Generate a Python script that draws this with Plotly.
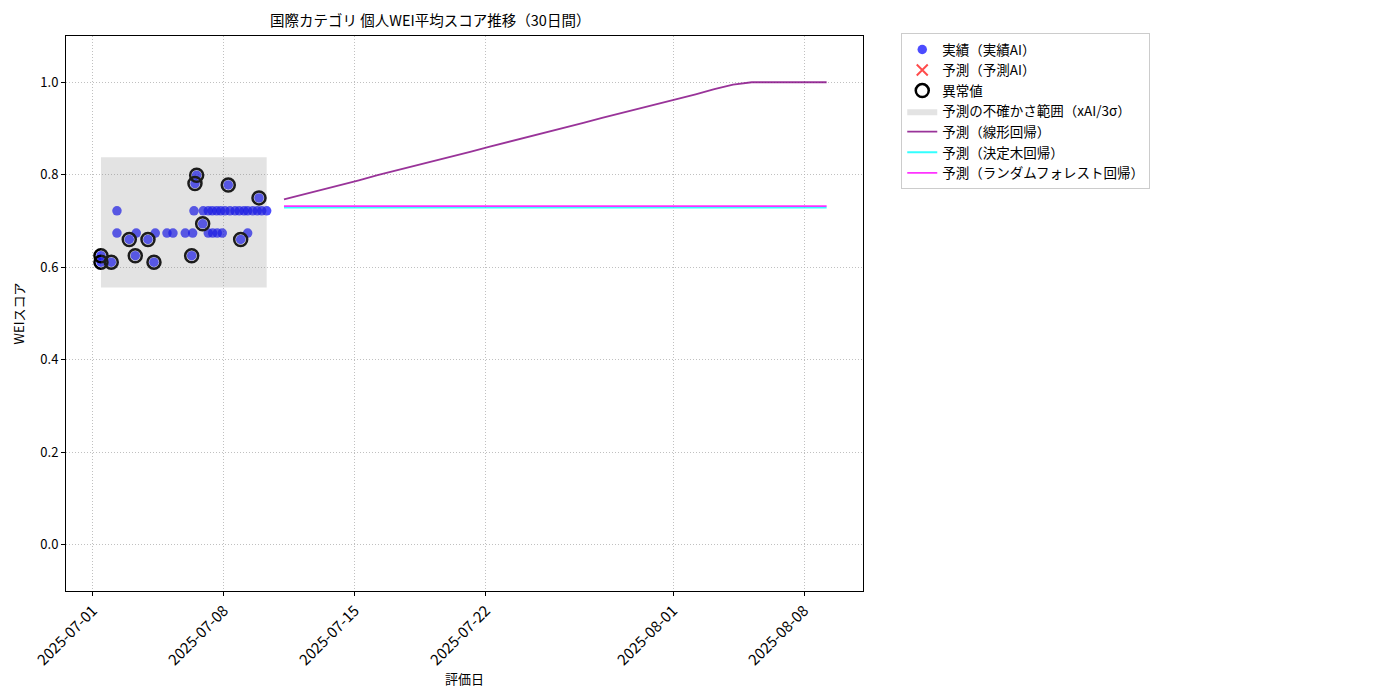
import plotly.graph_objects as go
import pandas as pd

# ---- data ----
obs_dates = [
    "2025-07-01 10:16", "2025-07-01 10:16", "2025-07-01 23:28", "2025-07-02 06:47", "2025-07-02 06:47",
    "2025-07-02 22:34", "2025-07-03 06:16", "2025-07-03 07:32", "2025-07-03 22:33", "2025-07-04 06:15",
    "2025-07-04 07:55", "2025-07-04 22:55", "2025-07-05 06:37", "2025-07-05 22:24", "2025-07-06 06:36",
    "2025-07-06 07:53", "2025-07-06 09:33", "2025-07-06 13:00", "2025-07-06 10:50", "2025-07-06 20:43",
    "2025-07-06 21:29", "2025-07-07 03:53", "2025-07-07 03:53", "2025-07-07 09:01", "2025-07-07 09:33",
    "2025-07-07 14:40", "2025-07-07 15:27", "2025-07-07 19:48", "2025-07-07 21:52", "2025-07-08 01:19",
    "2025-07-08 05:33", "2025-07-08 07:44", "2025-07-08 14:10", "2025-07-08 19:39", "2025-07-08 21:27",
    "2025-07-09 01:42", "2025-07-09 06:26", "2025-07-09 06:26", "2025-07-09 12:52", "2025-07-09 18:45",
    "2025-07-09 20:56", "2025-07-10 00:24", "2025-07-10 06:49",
]
obs_values = [
    0.625, 0.611, 0.611, 0.722, 0.674,
    0.660, 0.625, 0.674, 0.660, 0.611,
    0.674, 0.674, 0.674, 0.674, 0.625,
    0.674, 0.722, 0.799, 0.781, 0.694,
    0.722, 0.722, 0.674, 0.722, 0.674,
    0.722, 0.674, 0.722, 0.674, 0.722,
    0.778, 0.722, 0.722, 0.722, 0.660,
    0.722, 0.722, 0.674, 0.722, 0.722,
    0.750, 0.722, 0.722,
]
outlier_dates = [
    "2025-07-01 10:16", "2025-07-01 10:16", "2025-07-01 23:28", "2025-07-02 22:34", "2025-07-03 06:16",
    "2025-07-03 22:33", "2025-07-04 06:15", "2025-07-06 06:36", "2025-07-06 13:00", "2025-07-06 10:50",
    "2025-07-06 20:43", "2025-07-08 05:33", "2025-07-08 21:27", "2025-07-09 20:56",
]
outlier_values = [
    0.625, 0.611, 0.611, 0.660, 0.625,
    0.660, 0.611, 0.625, 0.799, 0.781,
    0.694, 0.778, 0.660, 0.750,
]
band_dates = ["2025-07-01 10:16", "2025-07-10 06:49"]
band_lower = [0.556, 0.556]
band_upper = [0.838, 0.838]

forecast_dates = pd.date_range("2025-07-11 05:00", periods=30, freq="D")
linear_pred = [
    0.747, 0.757, 0.768, 0.778, 0.788, 0.799, 0.809, 0.819, 0.830, 0.840,
    0.850, 0.861, 0.871, 0.881, 0.892, 0.902, 0.912, 0.923, 0.933, 0.943,
    0.954, 0.964, 0.974, 0.985, 0.995, 1.000, 1.000, 1.000, 1.000, 1.000,
]
tree_pred = [0.729] * 30
forest_pred = [0.732] * 30

x_ticks = ["2025-07-01", "2025-07-08", "2025-07-15", "2025-07-22", "2025-08-01", "2025-08-08"]
y_ticks = [0.0, 0.2, 0.4, 0.6, 0.8, 1.0]

FONT = "Noto Sans CJK JP"
GRID = "rgba(176,176,176,0.8)"

fig = go.Figure()

fig.add_trace(go.Scatter(
    x=obs_dates, y=obs_values, mode="markers", name="実績（実績AI）",
    marker=dict(color="rgba(0,0,255,0.7)", size=9.5, line=dict(width=0)),
))
fig.add_trace(go.Scatter(
    x=[None], y=[None], mode="markers", name="予測（予測AI）",
    marker=dict(color="rgba(255,0,0,0.7)", symbol="x-thin", size=11,
                line=dict(width=2, color="rgba(255,0,0,0.7)")),
))
fig.add_trace(go.Scatter(
    x=outlier_dates, y=outlier_values, mode="markers", name="異常値",
    marker=dict(color="rgba(0,0,0,0)", size=13, line=dict(width=2.5, color="black")),
))
fig.add_trace(go.Scatter(
    x=[band_dates[0], band_dates[1], band_dates[1], band_dates[0], band_dates[0]],
    y=[band_lower[0], band_lower[1], band_upper[1], band_upper[0], band_lower[0]],
    mode="lines", fill="toself", fillcolor="rgba(128,128,128,0.22)",
    line=dict(width=0, color="rgba(0,0,0,0)"), name="予測の不確かさ範囲（xAI/3σ）",
))
fig.add_trace(go.Scatter(
    x=forecast_dates, y=linear_pred, mode="lines", name="予測（線形回帰）",
    line=dict(color="rgba(128,0,128,0.8)", width=1.8),
))
fig.add_trace(go.Scatter(
    x=forecast_dates, y=tree_pred, mode="lines", name="予測（決定木回帰）",
    line=dict(color="rgba(0,255,255,0.8)", width=1.8),
))
fig.add_trace(go.Scatter(
    x=forecast_dates, y=forest_pred, mode="lines", name="予測（ランダムフォレスト回帰）",
    line=dict(color="rgba(255,0,255,0.8)", width=1.8),
))

# the page places the figure at an 8px offset; margins compensate for it
fig.update_layout(
    width=1400, height=700,
    paper_bgcolor="white", plot_bgcolor="white",
    margin=dict(l=58, r=545, t=28, b=117),
    font=dict(family=FONT, size=12, color="black"),
    title=dict(text="国際カテゴリ 個人WEI平均スコア推移（30日間）",
               x=0.457, xref="paper", xanchor="center",
               y=1 - 13 / 700, yref="container", yanchor="middle",
               font=dict(family=FONT, size=14.5, color="black")),
    showlegend=True,
    legend=dict(x=1.048, y=1.005, xanchor="left", yanchor="top",
                bordercolor="#cccccc", borderwidth=1, bgcolor="white",
                font=dict(family=FONT, size=13.5), tracegroupgap=0),
)
fig.update_xaxes(
    range=["2025-06-29 13:25", "2025-08-11 03:40"],
    tickvals=x_ticks, ticktext=x_ticks, tickangle=-45,
    showline=True, linecolor="black", linewidth=1, mirror=True,
    ticks="outside", ticklen=4, tickcolor="black",
    showgrid=True, gridcolor=GRID, griddash="1px,2px", gridwidth=1,
    zeroline=False,
    title=dict(text="評価日", font=dict(family=FONT, size=13), standoff=0),
    tickfont=dict(family=FONT, size=15),
)
fig.update_yaxes(
    range=[-0.1, 1.1],
    tickvals=y_ticks, tickformat=".1f",
    showline=True, linecolor="black", linewidth=1, mirror=True,
    ticks="outside", ticklen=4, tickcolor="black",
    showgrid=True, gridcolor=GRID, griddash="1px,2px", gridwidth=1,
    zeroline=False,
    title=dict(text="WEIスコア", font=dict(family=FONT, size=13), standoff=12),
    tickfont=dict(family=FONT, size=13),
)

fig.write_html("out.html")
